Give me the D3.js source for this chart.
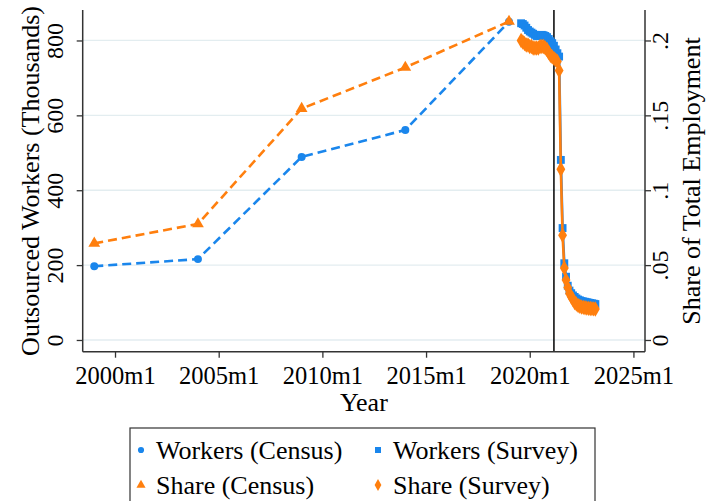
<!DOCTYPE html>
<html>
<head>
<meta charset="utf-8">
<script src="https://cdn.jsdelivr.net/npm/d3@7"></script>
<style>
  html, body { margin: 0; padding: 0; background: #fff; }
  svg { display: block; font-family: "Liberation Serif", "Times New Roman", serif; }
</style>
</head>
<body>
<svg id="chart" width="709" height="501"></svg>
<script>
// ---- data ----
const censusMonths = ["1999m1", "2004m1", "2009m1", "2014m1", "2019m1"];
const workersCensus = [197, 216, 489, 561, 850];
const shareCensus = [0.0645, 0.0775, 0.1545, 0.182, 0.2127];

const surveyMonths = [
  "2019m8","2019m9","2019m10","2019m11","2019m12",
  "2020m1","2020m2","2020m3","2020m4","2020m5","2020m6","2020m7","2020m8","2020m9","2020m10","2020m11","2020m12",
  "2021m1","2021m2","2021m3","2021m4","2021m5","2021m6","2021m7","2021m8","2021m9","2021m10","2021m11","2021m12",
  "2022m1","2022m2","2022m3","2022m4","2022m5","2022m6","2022m7","2022m8","2022m9","2022m10","2022m11","2022m12",
  "2023m1","2023m2","2023m3"
];
const workersSurvey = [
  846, 844, 840, 834, 828,
  824, 821, 818, 815, 812, 812, 814, 815, 814, 812, 809, 804,
  798, 793, 786, 776, 766, 757, 481, 299, 205, 169, 145, 132,
  125, 119, 115, 111, 108, 106, 104, 103, 102, 101, 100, 99,
  98, 97, 96
];
const shareSurvey = [
  0.200, 0.199, 0.198, 0.197, 0.197,
  0.196, 0.196, 0.195, 0.195, 0.195, 0.195, 0.196, 0.196, 0.196, 0.195, 0.194, 0.192,
  0.190, 0.189, 0.188, 0.187, 0.186, 0.180, 0.114, 0.070, 0.048, 0.040, 0.035, 0.031,
  0.029, 0.027, 0.025, 0.024, 0.023, 0.0225, 0.022, 0.0218, 0.0215, 0.0213, 0.0211, 0.021,
  0.0209, 0.0208, 0.0207
];

const eventMonth = "2021m3";
const xTickLabels = ["2000m1", "2005m1", "2010m1", "2015m1", "2020m1", "2025m1"];
const leftTicks = [0, 200, 400, 600, 800];
const rightTicks = [0, 0.05, 0.1, 0.15, 0.2];
const rightTickLabels = ["0", ".05", ".1", ".15", ".2"];

const legendLabels = ["Workers (Census)", "Workers (Survey)", "Share (Census)", "Share (Survey)"];

// ---- helpers ----
function tm(s) { const m = s.match(/(\d+)m(\d+)/); return (+m[1] - 2000) * 12 + (+m[2] - 1); }

const BLUE = "#1a86ec";
const ORANGE = "#ff7f0e";
const AXIS = "#333";

const svg = d3.select("#chart");
const L = 82.7, R = 645, T = 10, B = 351.7;

const x = d3.scaleLinear().domain([-18.7, 306.7]).range([L, R]);
const yL = d3.scaleLinear().domain([-31.3, 881.4]).range([B, T]);
const yR = d3.scaleLinear().domain([-31.3 / 4000, 881.4 / 4000]).range([B, T]);

// gridlines
svg.append("g").selectAll("line").data(leftTicks).join("line")
  .attr("x1", L).attr("x2", R)
  .attr("y1", d => yL(d)).attr("y2", d => yL(d))
  .attr("stroke", "#e3edf0").attr("stroke-width", 1.3);

// vertical event line
svg.append("line")
  .attr("x1", x(tm(eventMonth))).attr("x2", x(tm(eventMonth)))
  .attr("y1", T).attr("y2", B)
  .attr("stroke", "#000").attr("stroke-width", 1.5);

// axes
const fs = 24;
const gL = svg.append("g").attr("transform", `translate(${L},0)`)
  .call(d3.axisLeft(yL).tickValues(leftTicks).tickSize(6).tickSizeOuter(0).tickFormat(d3.format("d")));
gL.selectAll("text").attr("transform", "rotate(-90)").attr("x", 0).attr("y", -20).attr("dy", 0)
  .attr("text-anchor", "middle").style("font-size", fs + "px").style("font-family", "Liberation Serif").attr("fill", "#000");

const gR = svg.append("g").attr("transform", `translate(${R},0)`)
  .call(d3.axisRight(yR).tickValues(rightTicks).tickSize(6).tickSizeOuter(0).tickFormat((d, i) => rightTickLabels[i]));
gR.selectAll("text").attr("transform", "rotate(-90)").attr("x", 0).attr("y", 23).attr("dy", 0)
  .attr("text-anchor", "middle").style("font-size", fs + "px").style("font-family", "Liberation Serif").attr("fill", "#000");

const gB = svg.append("g").attr("transform", `translate(0,${B})`)
  .call(d3.axisBottom(x).tickValues(xTickLabels.map(tm)).tickSize(6).tickSizeOuter(0)
    .tickFormat((d, i) => xTickLabels[i]));
gB.selectAll("text").attr("y", 32).attr("dy", 0)
  .style("font-size", "24.5px").style("font-family", "Liberation Serif").attr("fill", "#000");

[gL, gR, gB].forEach(g => {
  g.select(".domain").attr("stroke", AXIS).attr("stroke-width", 1.5);
  g.selectAll(".tick line").attr("stroke", AXIS).attr("stroke-width", 1.3);
});
gL.select(".domain").attr("d", `M0,${T}V${B}`);
gR.select(".domain").attr("d", `M0,${T}V${B}`);
gB.select(".domain").attr("d", `M${L},0H${R}`);

// titles
svg.append("text").attr("transform", `translate(39,181) rotate(-90)`).attr("text-anchor", "middle")
  .style("font-size", "26px").text("Outsourced Workers (Thousands)");
svg.append("text").attr("transform", `translate(700,181) rotate(-90)`).attr("text-anchor", "middle")
  .style("font-size", "26px").text("Share of Total Employment");
svg.append("text").attr("x", (L + R) / 2).attr("y", 411).attr("text-anchor", "middle")
  .style("font-size", "26px").text("Year");

// series
const cW = censusMonths.map((m, i) => ({ t: tm(m), v: workersCensus[i] }));
const cS = censusMonths.map((m, i) => ({ t: tm(m), v: shareCensus[i] }));
const sW = surveyMonths.map((m, i) => ({ t: tm(m), v: workersSurvey[i] }));
const sS = surveyMonths.map((m, i) => ({ t: tm(m), v: shareSurvey[i] }));

const lineL = d3.line().x(d => x(d.t)).y(d => yL(d.v));
const lineR = d3.line().x(d => x(d.t)).y(d => yR(d.v));

const symCircle = d3.symbol().type(d3.symbolCircle).size(50);
const symSquare = d3.symbol().type(d3.symbolSquare).size(62);
const symTri = d3.symbol().type(d3.symbolTriangle).size(60);
const symDiamond = d3.symbol().type(d3.symbolDiamond).size(68);

function drawSeries(data, line, yS, color, dashed, sym) {
  svg.append("path").datum(data).attr("d", line).attr("fill", "none")
    .attr("stroke", color).attr("stroke-width", 2.6)
    .attr("stroke-dasharray", dashed ? "9,5" : null).attr("stroke-linejoin", "round");
  svg.append("g").selectAll("path").data(data).join("path")
    .attr("transform", d => `translate(${x(d.t)},${yS(d.v)})`)
    .attr("d", sym).attr("fill", color);
}

drawSeries(cW, lineL, yL, BLUE, true, symCircle);
drawSeries(sW, lineL, yL, BLUE, false, symSquare);
drawSeries(cS, lineR, yR, ORANGE, true, symTri);
drawSeries(sS, lineR, yR, ORANGE, false, symDiamond);

// legend
const lg = svg.append("g");
lg.append("rect").attr("x", 130).attr("y", 428).attr("width", 465).attr("height", 90)
  .attr("fill", "#fff").attr("stroke", AXIS).attr("stroke-width", 1.2);
const legendItems = [
  { label: legendLabels[0], color: BLUE, sym: d3.symbol().type(d3.symbolCircle).size(30), x: 141, y: 450 },
  { label: legendLabels[1], color: BLUE, sym: d3.symbol().type(d3.symbolSquare).size(36), x: 378, y: 450 },
  { label: legendLabels[2], color: ORANGE, sym: d3.symbol().type(d3.symbolTriangle).size(36), x: 141, y: 485 },
  { label: legendLabels[3], color: ORANGE, sym: d3.symbol().type(d3.symbolDiamond).size(40), x: 378, y: 485 }
];
legendItems.forEach(it => {
  lg.append("path").attr("transform", `translate(${it.x},${it.y})`).attr("d", it.sym).attr("fill", it.color);
  lg.append("text").attr("x", it.x + 15).attr("y", it.y + 9).style("font-size", "26px").text(it.label);
});
</script>
</body>
</html>
